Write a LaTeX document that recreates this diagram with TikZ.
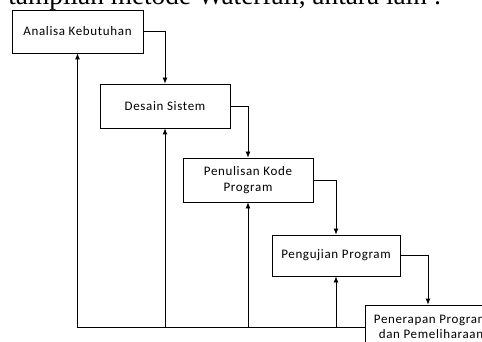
\documentclass[tikz,border=0pt]{standalone}
\usepackage{fontspec}
\setmainfont{Carlito}
\newfontfamily\boxfont{Carlito}[LetterSpace=5]
\newfontfamily\textserif{Liberation Serif}
\usetikzlibrary{arrows.meta}

\begin{document}
\begin{tikzpicture}[x=1pt,y=-1pt,font=\boxfont\fontsize{13}{15.5}\selectfont,line width=0.8pt]
    \tikzstyle{phase}=[draw,rectangle,align=center,minimum width=130,minimum height=44,inner sep=2]
    \tikzstyle{flow}=[-{Latex[length=6pt,width=5pt]}]

    \useasboundingbox (0,0) rectangle (482,342);
    \clip (0,0) rectangle (482,342);

    \node(0)[anchor=base west,inner sep=0,font=\textserif\fontsize{27.3}{30}\selectfont] at (8,5) {tampilan metode Waterfall, antara lain :};

    \node(1)[phase,minimum width=131,minimum height=43] at (77.5,31.5) {Analisa Kebutuhan};
    \node(2)[phase] at (165,106) {Desain Sistem};
    \node(3)[phase] at (248,180) {Penulisan Kode\\Program};
    \node(4)[phase,minimum width=128,minimum height=41] at (336,255.5) {Pengujian Program};
    \node(5)[phase,minimum width=132] at (431,327) {Penerapan Program\\dan Pemeliharaan};

    % alur maju
    \draw[flow] (1.east) -| (2.north);
    \draw[flow] (2.east) -| (3.north);
    \draw[flow] (3.east) -| (4.north);
    \draw[flow] (4.east) -| ([xshift=-3]5.north);

    % alur balik
    \draw[flow] (5.west) -| (1.south);
    \draw[flow] (2.south |- 5.west) -- (2.south);
    \draw[flow] (3.south |- 5.west) -- (3.south);
    \draw[flow] (4.south |- 5.west) -- (4.south);
\end{tikzpicture}
\end{document}
